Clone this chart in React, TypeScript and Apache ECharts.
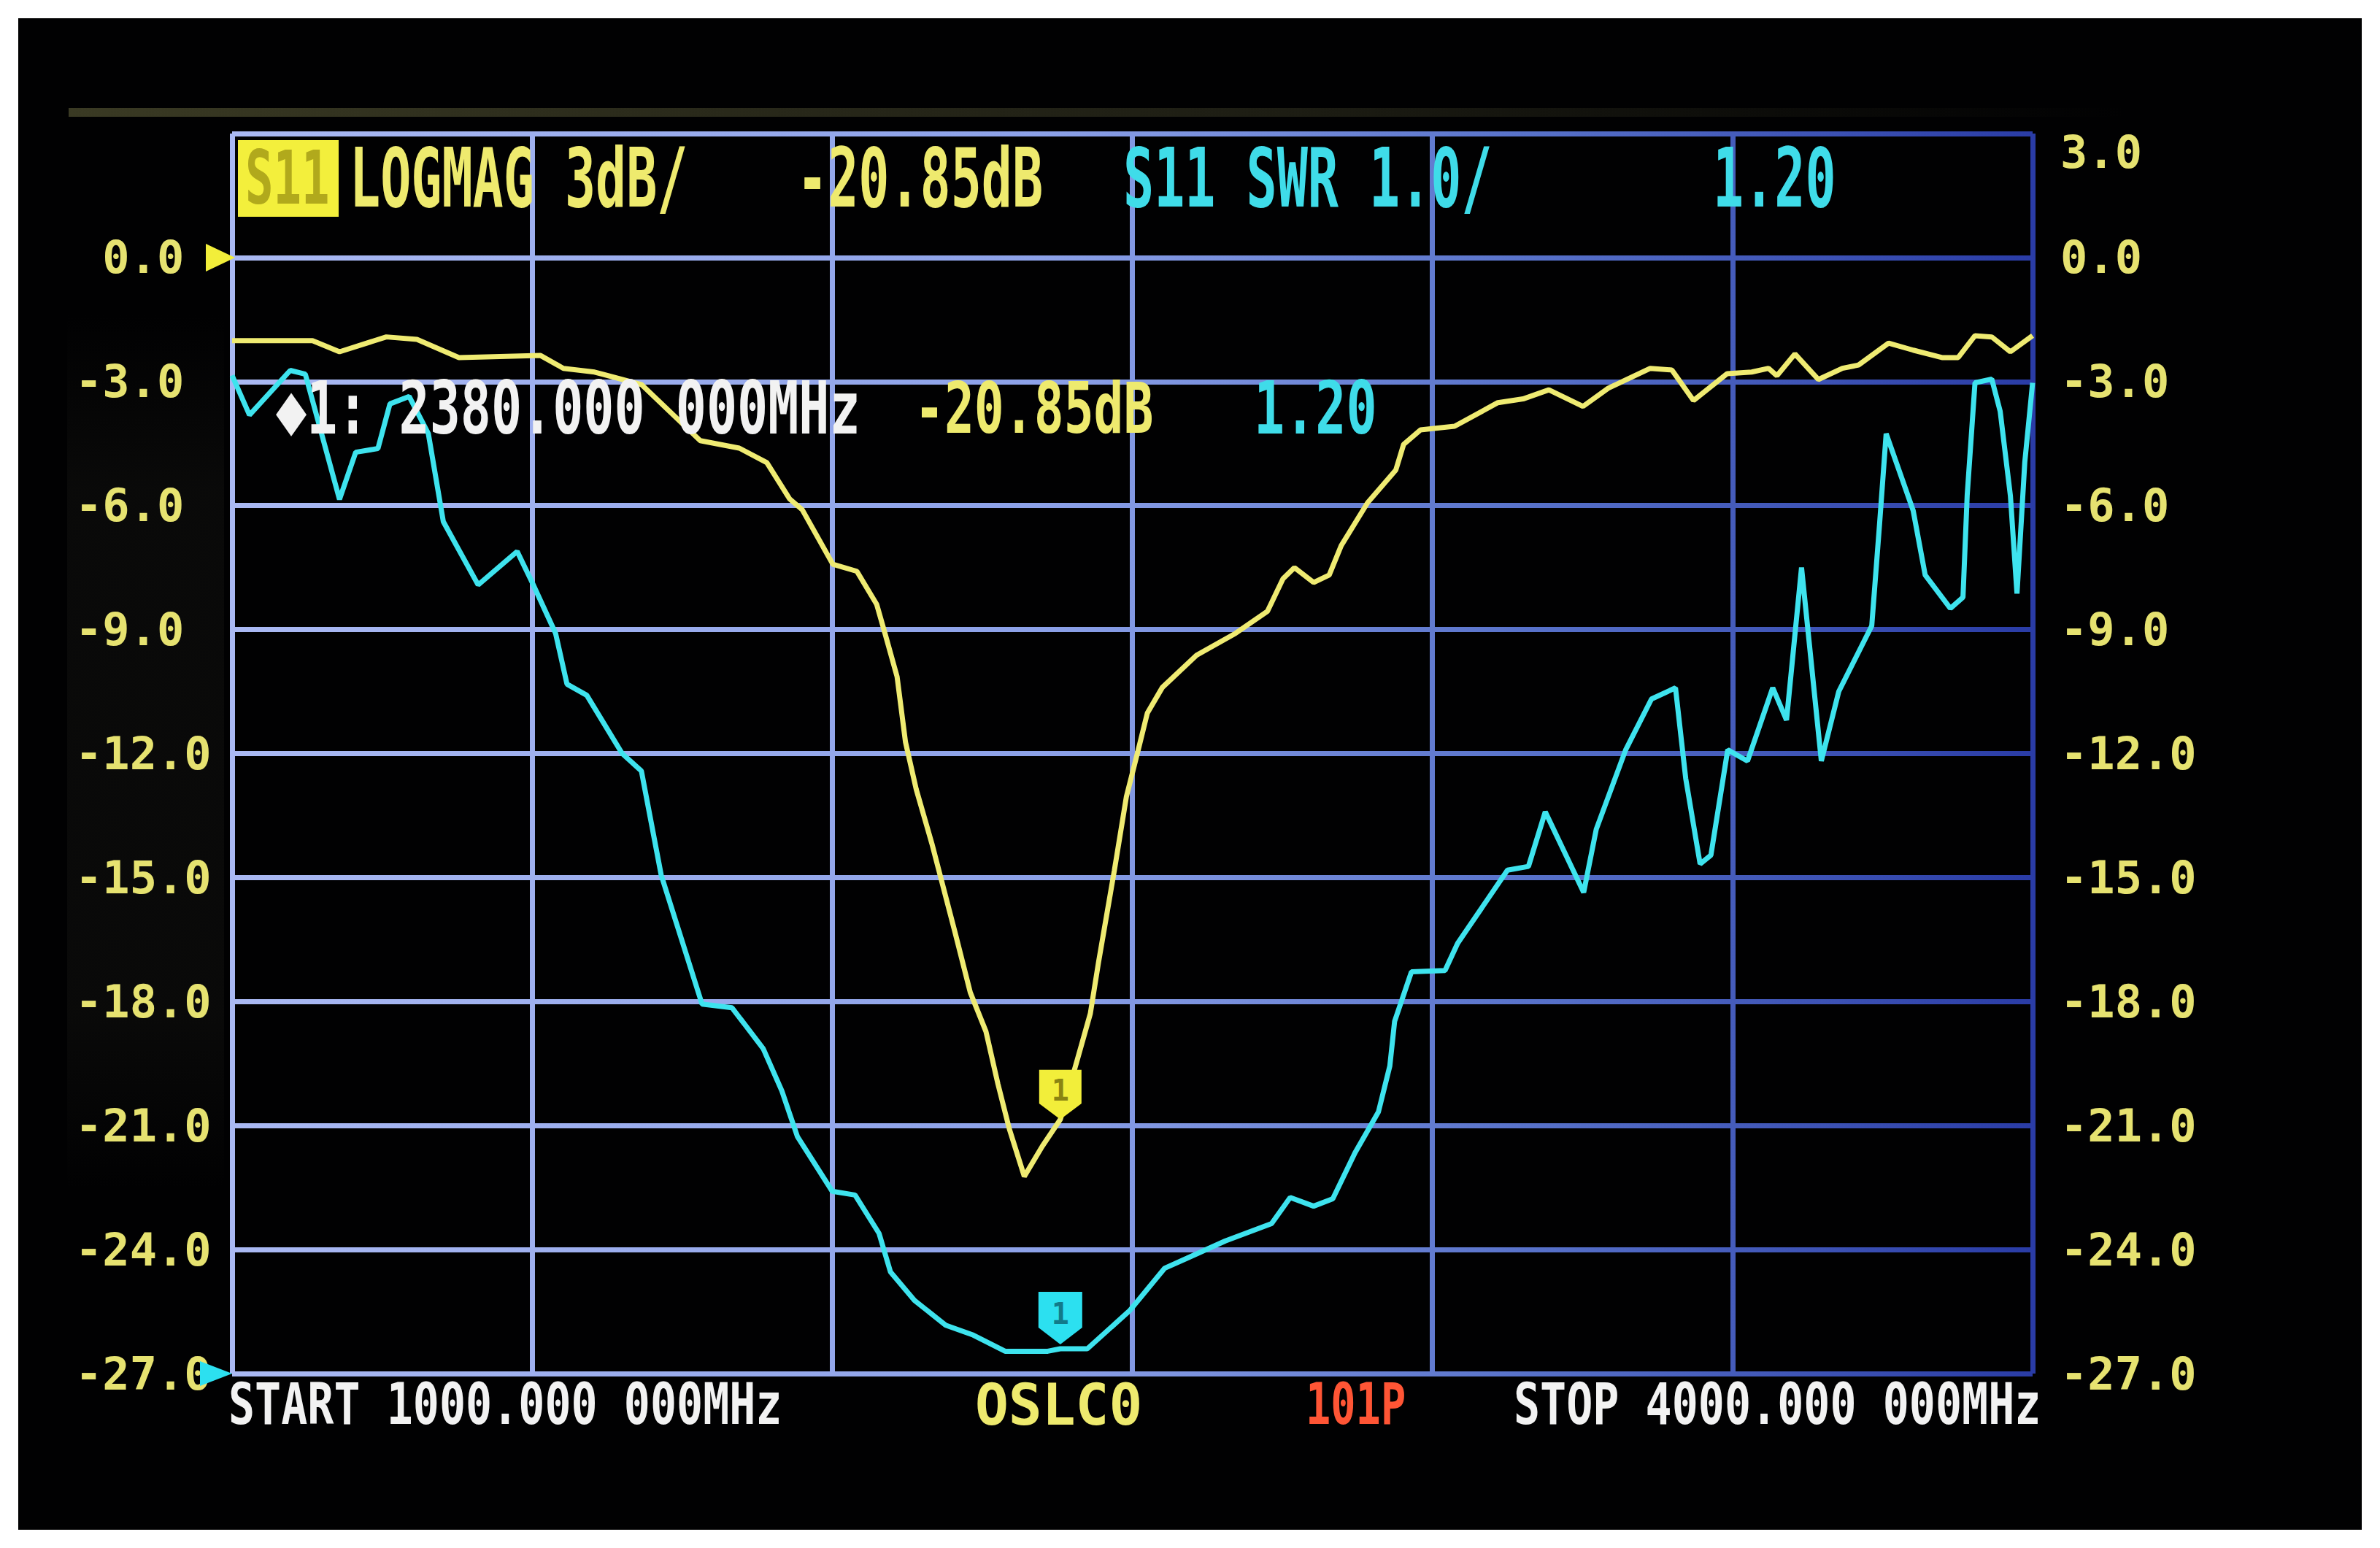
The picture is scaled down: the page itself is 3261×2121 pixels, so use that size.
import React, { useEffect, useRef } from "react";
import * as echarts from "echarts";

// ---------------- data ----------------
// Trace 1: S11 LOGMAG (dB), 3 dB/div, reference 0.0 dB
const yellowFreq = [
  1000, 1134, 1179, 1257, 1308, 1378, 1514, 1552, 1604, 1682, 1780, 1845, 1891, 1929, 1950,
  2001, 2041, 2074, 2088, 2108, 2122, 2140, 2166, 2205, 2230, 2256, 2276, 2295, 2320, 2350,
  2380, 2410, 2430, 2444, 2456, 2470, 2490, 2510, 2525, 2550, 2607, 2672, 2725, 2751, 2770,
  2802, 2828, 2848, 2892, 2939, 2952, 2980, 3037, 3109, 3151, 3194, 3251, 3293, 3363, 3399,
  3435, 3491, 3532, 3560, 3574, 3604, 3643, 3683, 3710, 3760, 3801, 3849, 3876, 3904, 3932,
  3963, 4000,
];
const yellowDb = [
  -2.01, -2.01, -2.28, -1.92, -1.98, -2.42, -2.37, -2.68, -2.77, -3.07, -4.43, -4.61, -4.96, -5.84, -6.1,
  -7.42, -7.59, -8.39, -9.1, -10.14, -11.72, -12.87, -14.18, -16.35, -17.78, -18.72, -19.99, -21.08, -22.23, -21.5,
  -20.85, -19.32, -18.29, -17.02, -16.01, -14.83, -13.05, -11.9, -11.02, -10.4, -9.62, -9.09, -8.56, -7.77, -7.5,
  -7.86, -7.68, -6.97, -5.93, -5.14, -4.52, -4.17, -4.08, -3.51, -3.42, -3.2, -3.6, -3.16, -2.68, -2.72,
  -3.46, -2.81, -2.77, -2.68, -2.86, -2.33, -2.95, -2.68, -2.6, -2.07, -2.24, -2.42, -2.42, -1.89, -1.92,
  -2.28, -1.89,
];

// Trace 2: S11 SWR, 1.0/div, reference 1.0 at the bottom line
const cyanFreq = [
  1000, 1029, 1097, 1122, 1179, 1206, 1243, 1263, 1295, 1327, 1352, 1410, 1475, 1500, 1539,
  1558, 1591, 1650, 1682, 1715, 1783, 1833, 1885, 1916, 1942, 2000, 2038, 2078, 2097, 2137,
  2189, 2235, 2288, 2359, 2380, 2425, 2496, 2554, 2591, 2655, 2732, 2763, 2802, 2834, 2871,
  2910, 2929, 2937, 2965, 3021, 3042, 3125, 3160, 3188, 3252, 3273, 3322, 3365, 3405, 3422,
  3446, 3464, 3492, 3525, 3567, 3590, 3615, 3648, 3677, 3732, 3745, 3756, 3801, 3821, 3863,
  3884, 3891, 3904, 3932, 3946, 3963, 3974, 3987, 4000,
];
const cyanSwr = [
  9.05, 8.73, 9.09, 9.06, 8.05, 8.43, 8.46, 8.82, 8.88, 8.58, 7.87, 7.36, 7.63, 7.38, 6.97,
  6.56, 6.47, 6.0, 5.86, 5.02, 3.98, 3.95, 3.62, 3.28, 2.91, 2.47, 2.44, 2.13, 1.82, 1.59,
  1.39, 1.31, 1.18, 1.18, 1.2, 1.2, 1.51, 1.85, 1.93, 2.07, 2.21, 2.42, 2.35, 2.41, 2.78,
  3.11, 3.48, 3.84, 4.24, 4.25, 4.47, 5.06, 5.09, 5.53, 4.88, 5.39, 6.03, 6.44, 6.53, 5.8,
  5.11, 5.18, 6.03, 5.94, 6.53, 6.27, 7.5, 5.94, 6.5, 7.03, 7.85, 8.58, 7.96, 7.44, 7.17,
  7.26, 8.08, 8.99, 9.02, 8.76, 8.08, 7.29, 8.35, 8.99,
];

// axes
const freqRange = [1000, 4000];
const freqStep = 500;
const dbRange = [-27, 3];
const dbStep = 3;
const swrRange = [1, 11];
const swrStep = 1;

// marker 1
const markerFreq = 2380;
const markerDb = -20.85;
const markerSwr = 1.2;

// texts
const headerTexts = ["S11", "LOGMAG 3dB/", "-20.85dB", "S11 SWR 1.0/", "1.20"];
const markerTexts = ["\u25C61: 2380.000 000MHz", "-20.85dB", "1.20"];
const footerTexts = ["START 1000.000 000MHz", "OSLC0", "101P", "STOP 4000.000 000MHz"];

// ---------------- layout / style ----------------
const W = 3261;
const H = 2121;
const GL = 318;
const GR = 2785;
const GT = 183;
const GB = 1882;
const MONO = '"DejaVu Sans Mono", "Liberation Mono", monospace';
const YEL = "#eeea6e";
const CYAN = "#3fdce9";
const WHITE = "#f2f2f2";
const RED = "#ff5535";
const SHIELD = "path://M0,0 L10,0 L10,7.5 L5,11 L0,7.5 Z";

function gridGrad() {
  return new echarts.graphic.LinearGradient(
    GL, 0, GR, 0,
    [
      { offset: 0, color: "#aab9f3" },
      { offset: 0.45, color: "#8ca1e8" },
      { offset: 0.72, color: "#5872ca" },
      { offset: 1, color: "#2a3ca6" },
    ],
    true
  );
}

function txt(text: string, x: number, y: number, size: number, color: string, sy: number, sx = 1) {
  return {
    type: "text",
    x,
    y,
    scaleX: sx,
    scaleY: sy,
    z: 100,
    silent: true,
    style: {
      text,
      fill: color,
      fontSize: size,
      fontWeight: "bold",
      fontFamily: MONO,
      align: "left",
      verticalAlign: "middle",
      textAlign: "left",
      textVerticalAlign: "middle",
    },
  };
}

const labelFont = { fontFamily: MONO, fontWeight: "bold" as const, fontSize: 62, color: "#e6e270" };

export default function App() {
  const ref = useRef<HTMLDivElement>(null);

  useEffect(() => {
    if (!ref.current) return;
    const chart = echarts.init(ref.current, null, { renderer: "svg" });

    const option: any = {
      animation: false,
      backgroundColor: "#ffffff",
      grid: {
        left: GL,
        right: W - GR,
        top: GT,
        bottom: H - GB,
        containLabel: false,
        outerBoundsMode: "none",
      },
      xAxis: {
        type: "value",
        min: freqRange[0],
        max: freqRange[1],
        interval: freqStep,
        axisLine: { show: false },
        axisTick: { show: false },
        axisLabel: { show: false },
        splitLine: { show: true, lineStyle: { color: gridGrad(), width: 7 } },
      },
      yAxis: [
        {
          type: "value",
          position: "left",
          min: dbRange[0],
          max: dbRange[1],
          interval: dbStep,
          axisLine: { show: false },
          axisTick: { show: false },
          splitLine: { show: true, lineStyle: { color: gridGrad(), width: 7 } },
          axisLabel: {
            ...labelFont,
            align: "left",
            margin: GL - 103,
            formatter: (v: number) => {
              if (v >= dbRange[1]) return "";
              const s = v.toFixed(1);
              return v >= 0 ? "\u00a0" + s : s;
            },
          },
        },
        {
          type: "value",
          position: "right",
          min: dbRange[0],
          max: dbRange[1],
          interval: dbStep,
          axisLine: { show: false },
          axisTick: { show: false },
          splitLine: { show: false },
          axisLabel: {
            ...labelFont,
            align: "left",
            margin: 38,
            formatter: (v: number) => (v >= dbRange[1] ? "{t|" + v.toFixed(1) + "}" : v.toFixed(1)),
            rich: {
              t: { ...labelFont, padding: [50, 0, 0, 0] },
            },
          },
        },
        {
          type: "value",
          min: swrRange[0],
          max: swrRange[1],
          interval: swrStep,
          show: false,
        },
      ],
      series: [
        {
          type: "line",
          name: "S11 LOGMAG",
          yAxisIndex: 0,
          data: yellowFreq.map((f, i) => [f, yellowDb[i]]),
          showSymbol: false,
          symbol: "none",
          lineStyle: { color: "#efeb72", width: 7 },
          z: 3,
          markPoint: {
            silent: true,
            symbol: SHIELD,
            symbolSize: [58, 68],
            symbolOffset: [0, "-50%"],
            itemStyle: { color: "#f2ee3a" },
            label: {
              show: true,
              formatter: "1",
              color: "#8a8412",
              fontSize: 40,
              fontWeight: "bold",
              fontFamily: MONO,
              offset: [0, -6],
            },
            data: [
              { coord: [markerFreq, markerDb] },
              {
                coord: [freqRange[0], 0],
                symbol: "triangle",
                symbolRotate: -90,
                symbolSize: [38, 40],
                symbolOffset: [-16, 0],
                label: { show: false },
              },
            ],
          },
        },
        {
          type: "line",
          name: "S11 SWR",
          yAxisIndex: 2,
          data: cyanFreq.map((f, i) => [f, cyanSwr[i]]),
          showSymbol: false,
          symbol: "none",
          lineStyle: { color: "#3ee3ee", width: 7 },
          z: 4,
          markPoint: {
            silent: true,
            symbol: SHIELD,
            symbolSize: [60, 72],
            symbolOffset: [0, -42],
            itemStyle: { color: "#2ce0f0" },
            label: {
              show: true,
              formatter: "1",
              color: "#127a8a",
              fontSize: 40,
              fontWeight: "bold",
              fontFamily: MONO,
              offset: [0, -6],
            },
            data: [
              { coord: [markerFreq, markerSwr] },
              {
                coord: [freqRange[0], swrRange[0]],
                symbol: "triangle",
                symbolRotate: -90,
                symbolSize: [34, 44],
                symbolOffset: [-22, 0],
                label: { show: false },
              },
            ],
          },
        },
      ],
      graphic: [
        // screen (black) inside the white photo border
        { type: "rect", z: -100, silent: true, shape: { x: 25, y: 25, width: 3211, height: 2071 }, style: { fill: "#010102" } },
        // faint bezel reflection
        {
          type: "rect",
          z: -90,
          silent: true,
          shape: { x: 94, y: 148, width: 2820, height: 12 },
          style: {
            fill: new echarts.graphic.LinearGradient(0, 0, 1, 0, [
              { offset: 0, color: "rgba(96,96,58,0.6)" },
              { offset: 0.6, color: "rgba(70,70,45,0.4)" },
              { offset: 1, color: "rgba(60,60,40,0)" },
            ]),
          },
        },
        // faint glare behind left labels
        {
          type: "rect",
          z: -90,
          silent: true,
          shape: { x: 92, y: 430, width: 215, height: 1200 },
          style: {
            fill: new echarts.graphic.LinearGradient(0, 0, 0, 1, [
              { offset: 0, color: "rgba(40,40,34,0)" },
              { offset: 0.2, color: "rgba(40,40,34,0.22)" },
              { offset: 0.8, color: "rgba(40,40,34,0.22)" },
              { offset: 1, color: "rgba(40,40,34,0)" },
            ]),
          },
        },
        // header
        { type: "rect", z: 99, silent: true, shape: { x: 326, y: 192, width: 138, height: 105 }, style: { fill: "#f3ef3c" } },
        txt(headerTexts[0], 336, 244, 64, "#b1a91c", 1.6),
        txt(headerTexts[1], 479, 244, 70, YEL, 1.6),
        txt(headerTexts[2], 1092, 244, 70, YEL, 1.6),
        txt(headerTexts[3], 1539, 244, 70, CYAN, 1.6),
        txt(headerTexts[4], 2347, 244, 70, CYAN, 1.6),
        // marker readout
        txt(markerTexts[0], 378, 559, 70, WHITE, 1.42),
        txt(markerTexts[1], 1253, 559, 68, YEL, 1.42),
        txt(markerTexts[2], 1718, 559, 70, CYAN, 1.42),
        // footer
        txt(footerTexts[0], 313, 1924, 60, WHITE, 1.32),
        txt(footerTexts[1], 1336, 1924, 60, YEL, 1.32, 1.27),
        txt(footerTexts[2], 1789, 1924, 57, RED, 1.36),
        txt(footerTexts[3], 2074, 1924, 60, WHITE, 1.32),
      ],
    };

    chart.setOption(option);
    return () => chart.dispose();
  }, []);

  return (
    <div
      ref={ref}
      style={{ position: "fixed", left: 0, top: 0, width: W, height: H }}
    />
  );
}
